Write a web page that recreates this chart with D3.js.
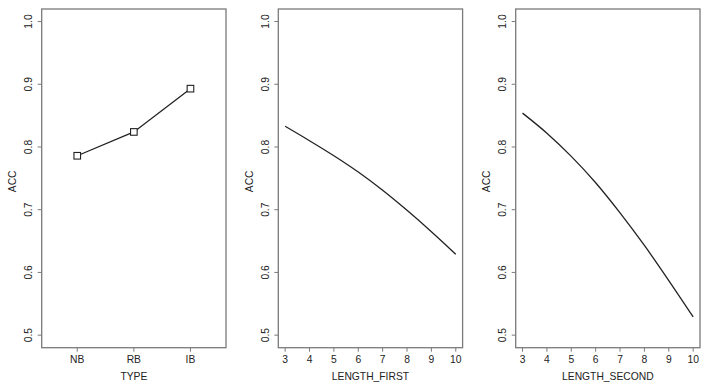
<!DOCTYPE html>
<html>
<head>
<meta charset="utf-8">
<script src="https://cdn.jsdelivr.net/npm/d3@7"></script>
<style>
  html, body { margin: 0; padding: 0; background: #fff; }
  svg { display: block; }
  text { font-family: "Liberation Sans", Arial, sans-serif; fill: #222; }
</style>
</head>
<body>
<svg id="chart" width="709" height="391"></svg>
<script>
// ---- data ----
const typeCategories = ["NB", "RB", "IB"];
const typeAcc = [0.786, 0.824, 0.893];

const lengthFirstX = [3, 4, 5, 6, 7, 8, 9, 10];
const lengthFirstAcc = [0.833, 0.810, 0.786, 0.760, 0.731, 0.699, 0.665, 0.629];

const lengthSecondX = [3, 4, 5, 6, 7, 8, 9, 10];
const lengthSecondAcc = [0.854, 0.822, 0.785, 0.743, 0.695, 0.643, 0.587, 0.529];

const yTicks = [0.5, 0.6, 0.7, 0.8, 0.9, 1.0];
const xTicksNum = [3, 4, 5, 6, 7, 8, 9, 10];
const yLabel = "ACC";
const xLabels = ["TYPE", "LENGTH_FIRST", "LENGTH_SECOND"];

// ---- layout ----
const svg = d3.select("#chart");
const lefts = [41.7, 278.3, 515.7];
const pw = 184.3, plotTop = 9, plotBottom = 347.7;
const axisColor = "#7a7a7a";
const fs = 10.3;

const y = d3.scaleLinear().domain([0.48, 1.02]).range([plotBottom, plotTop]);

function panel(i, xScale, tickVals, tickFmt, xTitle) {
  const g = svg.append("g");
  const L = lefts[i];
  g.append("rect").attr("x", L).attr("y", plotTop).attr("width", pw).attr("height", plotBottom - plotTop)
    .attr("fill", "none").attr("stroke", axisColor).attr("stroke-width", 1.3);
  yTicks.forEach(v => {
    g.append("line").attr("x1", L - 4).attr("x2", L).attr("y1", y(v)).attr("y2", y(v))
      .attr("stroke", axisColor).attr("stroke-width", 1);
    g.append("text").attr("transform", `translate(${L - 9.5},${y(v)}) rotate(-90)`)
      .attr("text-anchor", "middle").attr("font-size", fs).text(v.toFixed(1));
  });
  g.append("text").attr("transform", `translate(${L - 25.5},${(plotTop + plotBottom) / 2 + 3}) rotate(-90)`)
    .attr("text-anchor", "middle").attr("font-size", fs).text(yLabel);
  tickVals.forEach((v, k) => {
    const xp = xScale(v);
    g.append("line").attr("x1", xp).attr("x2", xp).attr("y1", plotBottom).attr("y2", plotBottom + 4)
      .attr("stroke", axisColor).attr("stroke-width", 1);
    g.append("text").attr("x", xp).attr("y", plotBottom + 15.5).attr("text-anchor", "middle")
      .attr("font-size", fs).text(tickFmt(v, k));
  });
  g.append("text").attr("x", L + pw / 2).attr("y", 380).attr("text-anchor", "middle")
    .attr("font-size", fs).text(xTitle);
  return g;
}

// Panel 1: TYPE
const x1 = d3.scaleLinear().domain([0.372, 3.628]).range([lefts[0], lefts[0] + pw]);
const g1 = panel(0, x1, [1, 2, 3], (v, k) => typeCategories[k], xLabels[0]);
const pts1 = typeAcc.map((v, k) => [x1(k + 1), y(v)]);
g1.append("path").attr("d", d3.line()(pts1)).attr("fill", "none")
  .attr("stroke", "#222").attr("stroke-width", 1.3);
g1.selectAll("rect.pt").data(pts1).enter().append("rect")
  .attr("x", d => d[0] - 3.3).attr("y", d => d[1] - 3.3).attr("width", 6.6).attr("height", 6.6)
  .attr("fill", "#fff").attr("stroke", "#222").attr("stroke-width", 1.1);

// Panel 2: LENGTH_FIRST
const x2 = d3.scaleLinear().domain([2.72, 10.28]).range([lefts[1], lefts[1] + pw]);
const g2 = panel(1, x2, xTicksNum, v => String(v), xLabels[1]);
g2.append("path")
  .attr("d", d3.line().x((d, k) => x2(lengthFirstX[k])).y(d => y(d)).curve(d3.curveMonotoneX)(lengthFirstAcc))
  .attr("fill", "none").attr("stroke", "#222").attr("stroke-width", 1.3);

// Panel 3: LENGTH_SECOND
const x3 = d3.scaleLinear().domain([2.72, 10.28]).range([lefts[2], lefts[2] + pw]);
const g3 = panel(2, x3, xTicksNum, v => String(v), xLabels[2]);
g3.append("path")
  .attr("d", d3.line().x((d, k) => x3(lengthSecondX[k])).y(d => y(d)).curve(d3.curveMonotoneX)(lengthSecondAcc))
  .attr("fill", "none").attr("stroke", "#222").attr("stroke-width", 1.3);
</script>
</body>
</html>
